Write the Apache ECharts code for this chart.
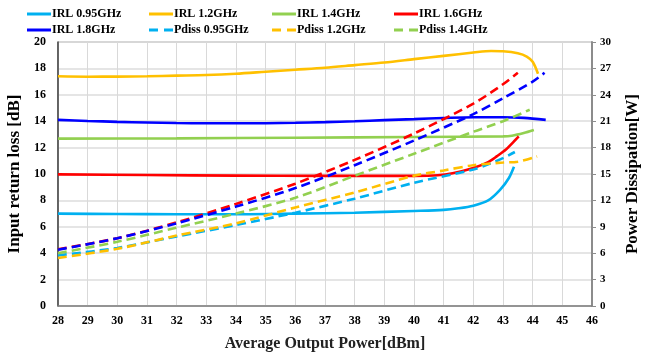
<!DOCTYPE html>
<html>
<head>
<meta charset="utf-8">
<script src="https://cdn.jsdelivr.net/npm/echarts@6/dist/echarts.min.js"></script>
<style>
html,body{margin:0;padding:0;background:#fff;}
#chart{width:653px;height:353px;}
</style>
</head>
<body>
<div id="chart"></div>
<script>
// ---- Data ----
// Input return loss [dB] (left axis)
const xIrl095 = [28, 30, 32, 34, 36, 38, 40, 41, 41.5, 42, 42.5, 42.9, 43.2, 43.37];
const irl095  = [7.0, 6.97, 6.95, 6.95, 7.0, 7.07, 7.2, 7.28, 7.4, 7.6, 8.0, 8.8, 9.7, 10.55];

const xIrl12 = [28, 29, 30, 31, 32, 33, 34, 35, 36, 37, 38, 39, 40, 41, 42, 42.6, 43, 43.5, 43.8, 44, 44.18];
const irl12  = [17.4, 17.37, 17.38, 17.4, 17.45, 17.5, 17.6, 17.75, 17.9, 18.05, 18.25, 18.45, 18.7, 18.95, 19.2, 19.32, 19.3, 19.15, 18.9, 18.5, 17.6];

const xIrl14 = [28, 32, 36, 40, 43, 43.3, 43.7, 44.04];
const irl14  = [12.68, 12.7, 12.75, 12.8, 12.85, 12.9, 13.1, 13.33];

const xIrl16 = [28, 31, 34, 37, 40, 40.8, 41.3, 42, 42.5, 42.8, 43.1, 43.3, 43.53];
const irl16  = [9.97, 9.92, 9.88, 9.86, 9.86, 9.9, 10.05, 10.45, 10.9, 11.35, 11.85, 12.3, 12.85];

const xIrl18 = [28, 29, 30, 31, 32, 33, 34, 35, 36, 37, 38, 39, 40, 41, 42, 43, 43.7, 44.44];
const irl18  = [14.1, 14.02, 13.95, 13.9, 13.86, 13.84, 13.84, 13.85, 13.88, 13.93, 14.0, 14.08, 14.16, 14.24, 14.3, 14.3, 14.25, 14.1];

// Power dissipation [W] (right axis)
const xPd095 = [28, 30, 32, 34, 36, 38, 40, 42, 42.5, 43, 43.4];
const pd095  = [5.75, 6.6, 7.9, 9.2, 10.6, 12.2, 14.0, 15.5, 16.1, 16.8, 17.5];

const xPd12 = [28, 30, 32, 34, 36, 38, 40, 41, 42, 43, 43.5, 44.15];
const pd12  = [5.45, 6.5, 8.0, 9.4, 11.2, 12.9, 14.8, 15.4, 16.0, 16.3, 16.4, 17.0];

const xPd14 = [28, 30, 32, 34, 36, 38, 40, 42, 43, 43.9];
const pd14  = [6.0, 7.3, 8.9, 10.5, 12.3, 14.8, 17.3, 19.8, 21.0, 22.3];

const xPd16 = [28, 30, 32, 34, 36, 38, 40, 42, 43, 43.5];
const pd16  = [6.45, 7.7, 9.5, 11.6, 13.9, 16.6, 19.6, 23.0, 25.2, 26.5];

const xPd18 = [28, 30, 32, 34, 36, 38, 40, 42, 43, 44, 44.4];
const pd18  = [6.4, 7.7, 9.4, 11.3, 13.4, 16.0, 18.8, 21.8, 23.6, 25.5, 26.5];

const legendCols = [
  ['IRL 0.95GHz', 'IRL 1.8GHz'],
  ['IRL 1.2GHz', 'Pdiss 0.95GHz'],
  ['IRL 1.4GHz', 'Pdiss 1.2GHz'],
  ['IRL 1.6GHz', 'Pdiss 1.4GHz']
];

// ---- Chart ----
const FONT = "'Times New Roman', 'Liberation Serif', serif";
const C = { lb: '#00B0F0', or: '#FFC000', gr: '#92D050', rd: '#FF0000', bl: '#0000FF' };
const ICON_SOLID = 'path://M0,0H24V3H0Z';
const ICON_DASH = 'path://M0,0H9V3H0Z M15,0H24V3H15Z';

function pairs(xs, ys) { return xs.map((x, i) => [x, ys[i]]); }
function mk(name, xs, ys, color, dashed, yAxisIndex) {
  return {
    name: name, type: 'line', yAxisIndex: yAxisIndex,
    data: pairs(xs, ys), showSymbol: false, symbol: 'none',
    smooth: 0.3,
    lineStyle: { color: color, width: 2.6, type: dashed ? [9, 5] : 'solid' },
    itemStyle: { color: color },
    emphasis: { disabled: true }, animation: false, z: dashed ? 3 : 2
  };
}

const series = [
  mk('IRL 0.95GHz', xIrl095, irl095, C.lb, false, 0),
  mk('IRL 1.2GHz', xIrl12, irl12, C.or, false, 0),
  mk('IRL 1.4GHz', xIrl14, irl14, C.gr, false, 0),
  mk('IRL 1.6GHz', xIrl16, irl16, C.rd, false, 0),
  mk('IRL 1.8GHz', xIrl18, irl18, C.bl, false, 0),
  mk('Pdiss 0.95GHz', xPd095, pd095, C.lb, true, 1),
  mk('Pdiss 1.2GHz', xPd12, pd12, C.or, true, 1),
  mk('Pdiss 1.4GHz', xPd14, pd14, C.gr, true, 1),
  mk('Pdiss 1.6GHz', xPd16, pd16, C.rd, true, 1),
  mk('Pdiss 1.8GHz', xPd18, pd18, C.bl, true, 1)
];

const legendLeft = [27, 149, 272, 394];
const legends = legendCols.map((col, i) => ({
  data: col.map(n => ({ name: n, icon: n.indexOf('Pdiss') === 0 ? ICON_DASH : ICON_SOLID })),
  orient: 'vertical', left: legendLeft[i], top: 7, padding: 0,
  itemWidth: 24, itemHeight: 3, itemGap: 2, selectedMode: false,
  textStyle: { fontFamily: FONT, fontWeight: 'bold', fontSize: 12, color: '#000', padding: [0, 0, 0, -4], lineHeight: 14 }
}));

const chart = echarts.init(document.getElementById('chart'), null, { renderer: 'canvas' });
chart.setOption({
  backgroundColor: '#fff',
  animation: false,
  legend: legends,
  grid: { left: 58, right: 61, top: 42, bottom: 47, show: true, borderColor: '#8c8c8c', borderWidth: 1,
          containLabel: false, outerBoundsMode: 'none' },
  xAxis: {
    type: 'value', min: 28, max: 46, interval: 1,
    name: 'Average Output Power[dBm]', nameLocation: 'middle', nameGap: 30,
    nameTextStyle: { fontFamily: FONT, fontWeight: 'bold', fontSize: 16, color: '#222' },
    axisLine: { show: true, lineStyle: { color: '#7f7f7f', width: 1.5 } },
    axisTick: { show: false },
    axisLabel: { fontFamily: FONT, fontWeight: 'bold', fontSize: 12, color: '#000', margin: 9 },
    splitLine: { show: true, lineStyle: { color: '#d9d9d9', width: 1 } }
  },
  yAxis: [
    {
      type: 'value', min: 0, max: 20, interval: 2, position: 'left',
      name: 'Input return loss [dB]', nameLocation: 'middle', nameGap: 28,
      nameTextStyle: { fontFamily: FONT, fontWeight: 'bold', fontSize: 17, color: '#000' },
      axisLine: { show: true, lineStyle: { color: '#404040', width: 1.5 } },
      axisTick: { show: false },
      axisLabel: { fontFamily: FONT, fontWeight: 'bold', fontSize: 12, color: '#000', margin: 12 },
      splitLine: { show: true, lineStyle: { color: '#dcdcdc', width: 1.6 } }
    },
    {
      type: 'value', min: 0, max: 30, interval: 3, position: 'right',
      name: 'Power Dissipation[W]', nameLocation: 'middle', nameGap: 32, nameRotate: 90,
      nameTextStyle: { fontFamily: FONT, fontWeight: 'bold', fontSize: 17, color: '#000' },
      axisLine: { show: true, lineStyle: { color: '#8c8c8c', width: 2 } },
      axisTick: { show: true, length: 4, inside: false, lineStyle: { color: '#8c8c8c', width: 1 } },
      axisLabel: { fontFamily: FONT, fontWeight: 'bold', fontSize: 11, color: '#000', margin: 8 },
      splitLine: { show: false }
    }
  ],
  series: series
});
</script>
</body>
</html>
